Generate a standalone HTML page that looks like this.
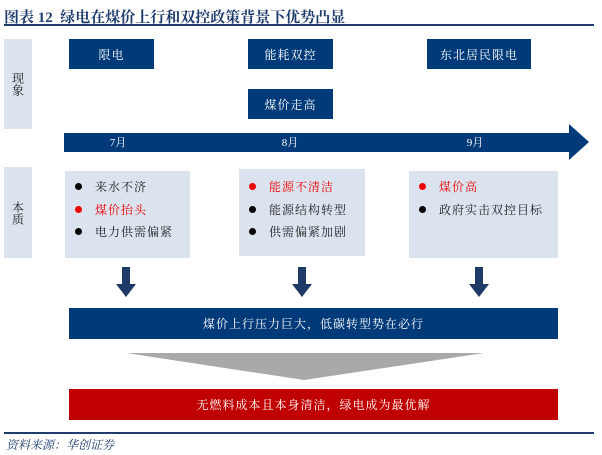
<!DOCTYPE html>
<html><head><meta charset="utf-8"><style>
body{margin:0;width:602px;height:455px;background:#fff;position:relative;overflow:hidden;font-family:"Liberation Serif","Noto Serif CJK SC","Noto Sans CJK SC",serif;}
.a{position:absolute;box-sizing:border-box;}
.nb{background:#003a78;color:#fff;font-size:12px;display:flex;align-items:center;justify-content:center;letter-spacing:1px;}
.lb{background:#dbe3ef;}
.side{background:#dbe3ef;color:#222;font-size:12px;display:flex;align-items:center;justify-content:center;writing-mode:vertical-rl;text-orientation:upright;}
.li{font-size:12px;color:#222;position:absolute;left:10px;letter-spacing:1px;white-space:nowrap;}
.li span{display:inline-block;width:7px;height:7px;border-radius:50%;background:#000;margin-right:13px;vertical-align:1px;}
.r{color:#e00;}
.r span{background:#e00;}
</style></head><body>
<div class="a" style="left:4px;top:6px;font-size:15px;font-weight:bold;color:#1f3c6e;white-space:nowrap;">图表 12&nbsp; 绿电在煤价上行和双控政策背景下优势凸显</div>
<div class="a" style="left:4px;top:24px;width:590px;height:2px;background:#1f3c6e;"></div>

<div class="a side" style="left:4px;top:39px;width:28px;height:90px;">现象</div>
<div class="a side" style="left:4px;top:167px;width:28px;height:91px;">本质</div>

<div class="a nb" style="left:69px;top:39px;width:85px;height:30px;">限电</div>
<div class="a nb" style="left:248px;top:39px;width:85px;height:30px;">能耗双控</div>
<div class="a nb" style="left:427px;top:39px;width:104px;height:30px;">东北居民限电</div>
<div class="a nb" style="left:248px;top:89px;width:85px;height:30px;">煤价走高</div>

<svg class="a" style="left:0;top:0" width="602" height="455">
<polygon points="64,133 569,133 569,124 589,142 569,160 569,152 64,152" fill="#003a78"/>
<g fill="#1f3a66">
<rect x="122" y="267" width="8" height="17"/><polygon points="116,284 136,284 126,297"/>
<rect x="298" y="267" width="8" height="17"/><polygon points="292,284 312,284 302,297"/>
<rect x="475" y="267" width="8" height="17"/><polygon points="469,284 489,284 479,297"/>
</g>
<polygon points="126,353 484,353 304,380" fill="#a9a9a9"/>
<text x="118" y="146" fill="#fff" font-size="11" text-anchor="middle">7月</text>
<text x="290" y="146" fill="#fff" font-size="11" text-anchor="middle">8月</text>
<text x="475" y="146" fill="#fff" font-size="11" text-anchor="middle">9月</text>
</svg>

<div class="a lb" style="left:65px;top:171px;width:125px;height:87px;">
<div class="li" style="top:7px;"><span></span>来水不济</div>
<div class="li r" style="top:30px;"><span></span>煤价抬头</div>
<div class="li" style="top:52px;"><span></span>电力供需偏紧</div>
</div>
<div class="a lb" style="left:239px;top:169px;width:126px;height:87px;">
<div class="li r" style="top:9px;"><span></span>能源不清洁</div>
<div class="li" style="top:32px;"><span></span>能源结构转型</div>
<div class="li" style="top:54px;"><span></span>供需偏紧加剧</div>
</div>
<div class="a lb" style="left:409px;top:171px;width:149px;height:87px;">
<div class="li r" style="top:7px;"><span></span>煤价高</div>
<div class="li" style="top:30px;"><span></span>政府实击双控目标</div>
</div>

<div class="a nb" style="left:69px;top:308px;width:489px;height:31px;">煤价上行压力巨大，低碳转型势在必行</div>
<div class="a nb" style="left:69px;top:389px;width:489px;height:31px;background:#c00000;">无燃料成本且本身清洁，绿电成为最优解</div>

<div class="a" style="left:4px;top:432px;width:590px;height:2px;background:#1f3c6e;"></div>
<div class="a" style="left:6px;top:436px;font-size:12px;font-style:italic;color:#1f3c6e;">资料来源：华创证券</div>
</body></html>
